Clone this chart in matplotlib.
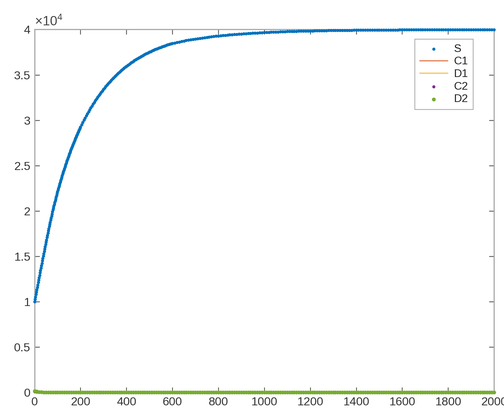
import io
import matplotlib
matplotlib.use('Agg')
import matplotlib.pyplot as plt
import numpy as np
from matplotlib.ticker import FuncFormatter, MultipleLocator
from PIL import Image

plt.rcParams['font.family'] = ['Liberation Sans', 'DejaVu Sans']
plt.rcParams['mathtext.fontset'] = 'custom'
plt.rcParams['mathtext.rm'] = 'Liberation Sans'

# sampling times of the S series (denser where the curve is steep)
t_s = np.concatenate([np.arange(0, 201, 2), np.arange(205, 601, 5), np.arange(610, 2001, 10)])

# S, t = 0..200 step 2
s_early = [10000, 10270, 10530, 10800, 11060, 11330, 11600, 11860, 12130, 12390,
           12660, 12920, 13190, 13450, 13720, 13980, 14240, 14510, 14770, 15040,
           15300, 15550, 15810, 16060, 16320, 16570, 16820, 17080, 17330, 17590,
           17840, 18070, 18300, 18530, 18760, 18990, 19220, 19450, 19680, 19910,
           20140, 20340, 20540, 20740, 20940, 21140, 21340, 21540, 21740, 21940,
           22140, 22320, 22490, 22670, 22840, 23020, 23200, 23370, 23550, 23720,
           23900, 24060, 24210, 24370, 24520, 24680, 24840, 24990, 25150, 25300,
           25460, 25600, 25740, 25880, 26020, 26160, 26300, 26440, 26580, 26720,
           26860, 26990, 27110, 27240, 27360, 27490, 27620, 27740, 27870, 27990,
           28120, 28230, 28350, 28460, 28580, 28690, 28800, 28920, 29030, 29150,
           29260]
# S, t = 205..600 step 5
s_mid = [29520, 29770, 30020, 30260, 30490, 30720, 30950, 31160, 31380, 31580,
         31790, 31990, 32180, 32370, 32550, 32730, 32900, 33080, 33240, 33410,
         33560, 33720, 33870, 34020, 34160, 34300, 34440, 34570, 34700, 34830,
         34960, 35080, 35200, 35310, 35430, 35540, 35640, 35750, 35850, 35950,
         36050, 36140, 36240, 36330, 36420, 36500, 36590, 36670, 36750, 36830,
         36900, 36980, 37050, 37120, 37190, 37260, 37330, 37390, 37450, 37510,
         37570, 37630, 37690, 37740, 37800, 37850, 37900, 37950, 38000, 38050,
         38100, 38140, 38190, 38230, 38280, 38320, 38360, 38400, 38440, 38470]
# S, t = 610..2000 step 10
s_late = [38530, 38590, 38640, 38690, 38740, 38790, 38830, 38880, 38920, 38960,
          39000, 39040, 39070, 39110, 39140, 39180, 39210, 39240, 39270, 39290,
          39320, 39350, 39370, 39390, 39420, 39440, 39460, 39480, 39500, 39520,
          39540, 39550, 39570, 39590, 39600, 39620, 39630, 39650, 39660, 39670,
          39690, 39700, 39710, 39720, 39730, 39740, 39750, 39760, 39770, 39780,
          39790, 39790, 39800, 39810, 39820, 39820, 39830, 39840, 39840, 39850,
          39850, 39860, 39860, 39870, 39870, 39880, 39880, 39890, 39890, 39900,
          39900, 39900, 39910, 39910, 39910, 39920, 39920, 39920, 39930, 39930,
          39930, 39930, 39940, 39940, 39940, 39940, 39950, 39950, 39950, 39950,
          39950, 39960, 39960, 39960, 39960, 39960, 39960, 39960, 39970, 39970,
          39970, 39970, 39970, 39970, 39970, 39970, 39980, 39980, 39980, 39980] \
         + [39980] * 10 + [39990] * 20
S = s_early + s_mid + s_late

# the other compartments stay close to zero
t_cd = np.arange(0, 2001, 10)
C1 = [120, 90, 60, 40, 25, 15, 8, 4] + [0] * 193
D1 = [80, 60, 45, 30, 20, 12, 6, 3] + [0] * 193
C2 = [100, 70, 50, 30, 20, 10, 5, 2] + [0] * 193
D2 = [150, 110, 70, 40, 25, 12, 6, 3] + [0] * 193

fig = plt.figure(figsize=(5.04, 4.08), dpi=100)
ax = fig.add_axes([0.0685, 0.038, 0.9117, 0.8897])

sz = 5.0
kw = dict(linewidths=0, clip_on=False, zorder=3)
ax.scatter(t_s, S, s=sz, color='#0072BD', label='S', **kw)
ax.plot(t_cd, C1, '-', color='#D95319', linewidth=0.6, label='C1', clip_on=False, zorder=3)
ax.plot(t_cd, D1, '-', color='#EDB120', linewidth=0.6, label='D1', clip_on=False, zorder=3)
ax.scatter(t_cd, C2, s=sz, color='#7E2F8E', label='C2', **kw)
ax.scatter(t_cd, D2, s=sz + 2.5, color='#77AC30', label='D2', **kw)

ax.set_xlim(0, 2000)
ax.set_ylim(0, 40000)
ax.xaxis.set_major_locator(MultipleLocator(200))
ax.yaxis.set_major_locator(MultipleLocator(5000))
ax.yaxis.set_major_formatter(FuncFormatter(lambda v, p: f'{v / 1e4:g}'))

for sp in ax.spines.values():
    sp.set_color('#a6a6a6')
    sp.set_linewidth(0.8)
ax.tick_params(direction='in', top=True, right=True, length=3.5, width=0.6,
               color='#555555', labelsize=8.5, labelcolor='#333333', pad=3)

ax.text(0, 1.004, r'$\times10^{4}$', transform=ax.transAxes, ha='left', va='bottom',
        fontsize=9.5, color='#444444')

leg = ax.legend(loc='upper right', bbox_to_anchor=(0.954, 0.974), fontsize=8,
                handlelength=2.5, handletextpad=0.55, labelspacing=0.2,
                borderpad=0.45, borderaxespad=0, fancybox=False, scatterpoints=1)
leg.get_frame().set_edgecolor('#999999')
leg.get_frame().set_linewidth(0.6)
for txt in leg.get_texts():
    txt.set_color('#222222')

# render larger and scale down so the dense dots come out smooth
buf = io.BytesIO()
fig.savefig(buf, dpi=300, format='png')
buf.seek(0)
img = Image.open(buf).convert('RGB').resize((504, 408), Image.LANCZOS)
img.save('out.png')
